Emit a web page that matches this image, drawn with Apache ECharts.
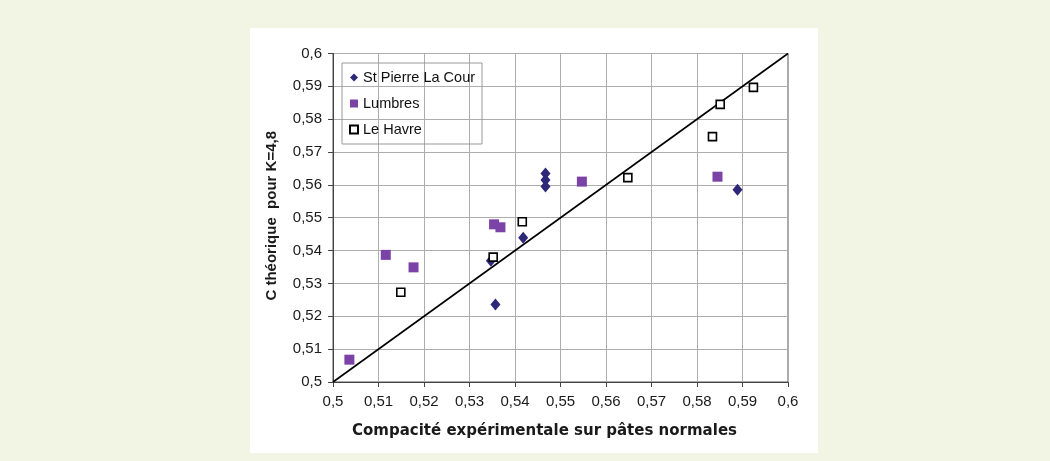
<!DOCTYPE html>
<html>
<head>
<meta charset="utf-8">
<script src="https://cdn.jsdelivr.net/npm/echarts@6/dist/echarts.min.js"></script>
<style>
	html, body { margin: 0; padding: 0; }
	body { width: 1050px; height: 461px; background: #f3f5e4; position: relative; overflow: hidden; }
	#chart { position: absolute; left: 250px; top: 28px; width: 568px; height: 425px; background: #ffffff; }
</style>
</head>
<body>
<div id="chart"></div>
<script>
	// x = compacité expérimentale, y = C théorique (K=4,8)
	let stPierre = [
		[0.5467, 0.5635], [0.5467, 0.5615], [0.5467, 0.5595],
		[0.5889, 0.5585], [0.5418, 0.5439], [0.5347, 0.5369], [0.5357, 0.5236]
	];
	let lumbres = [
		[0.5547, 0.5610], [0.5845, 0.5625], [0.5354, 0.5480], [0.5368, 0.5471],
		[0.5116, 0.5387], [0.5177, 0.5349], [0.5036, 0.5068]
	];
	let leHavre = [
		[0.5924, 0.5897], [0.5851, 0.5845], [0.5834, 0.5747], [0.5648, 0.5622],
		[0.5416, 0.5488], [0.5352, 0.5380], [0.5149, 0.5273]
	];
	let diagonal = [[0.5, 0.5], [0.6, 0.6]];
	let tickLabels = ['0,5', '0,51', '0,52', '0,53', '0,54', '0,55', '0,56', '0,57', '0,58', '0,59', '0,6'];

	let font = 'Liberation Sans, Arial, sans-serif';
	let fmt = function (v) {
		return tickLabels[Math.round((v - 0.5) * 100)];
	};

	let axisCommon = {
		type: 'value',
		min: 0.5,
		max: 0.6,
		interval: 0.01,
		nameLocation: 'middle',
		axisLine: { show: true, lineStyle: { color: '#444', width: 1 } },
		axisTick: { show: true, length: 5, lineStyle: { color: '#444' } },
		splitLine: { show: true, lineStyle: { color: '#adadad', width: 1 } },
		axisLabel: { formatter: fmt, color: '#1a1a1a', fontFamily: font, fontSize: 15 }
	};

	let chart = echarts.init(document.getElementById('chart'));
	chart.setOption({
		animation: false,
		backgroundColor: '#ffffff',
		grid: {
			left: 83, right: 30, top: 25.5, bottom: 71,
			show: true, borderColor: '#555', borderWidth: 1
		},
		legend: {
			orient: 'vertical',
			left: 92,
			top: 35,
			padding: [7, 7],
			itemGap: 11,
			itemWidth: 8,
			itemHeight: 8,
			borderColor: '#999',
			borderWidth: 1,
			textStyle: { fontFamily: font, fontSize: 14.5, color: '#111' },
			data: ['St Pierre La Cour', 'Lumbres', 'Le Havre']
		},
		xAxis: Object.assign({}, axisCommon, {
			name: 'Compacité expérimentale sur pâtes normales',
			nameGap: 42,
			nameTextStyle: { fontFamily: 'DejaVu Sans, sans-serif', fontSize: 15, fontWeight: 'bold', color: '#1a1a1a', padding: [0, 32, 0, 0] },
			axisLabel: Object.assign({}, axisCommon.axisLabel, { margin: 12 })
		}),
		yAxis: Object.assign({}, axisCommon, {
			name: 'C théorique  pour K=4,8',
			nameGap: 54,
			nameTextStyle: { fontFamily: font, fontSize: 15, fontWeight: 'bold', color: '#1a1a1a', padding: [0, 0, 0, 4] },
			axisLabel: Object.assign({}, axisCommon.axisLabel, { margin: 11 })
		}),
		series: [
			{
				name: 'diagonal',
				type: 'line',
				data: diagonal,
				symbol: 'none',
				silent: true,
				lineStyle: { color: '#000', width: 1.6 },
				z: 1
			},
			{
				name: 'St Pierre La Cour',
				type: 'scatter',
				symbol: 'diamond',
				symbolSize: [10, 12],
				itemStyle: { color: '#2d2878', opacity: 1 },
				data: stPierre,
				z: 3
			},
			{
				name: 'Lumbres',
				type: 'scatter',
				symbol: 'rect',
				symbolSize: 10,
				itemStyle: { color: '#7b43a5', opacity: 1 },
				data: lumbres,
				z: 3
			},
			{
				name: 'Le Havre',
				type: 'scatter',
				symbol: 'rect',
				symbolSize: 8,
				itemStyle: { color: '#ffffff', borderColor: '#000', borderWidth: 1.6, opacity: 1 },
				data: leHavre,
				z: 4
			}
		]
	});
</script>
</body>
</html>
